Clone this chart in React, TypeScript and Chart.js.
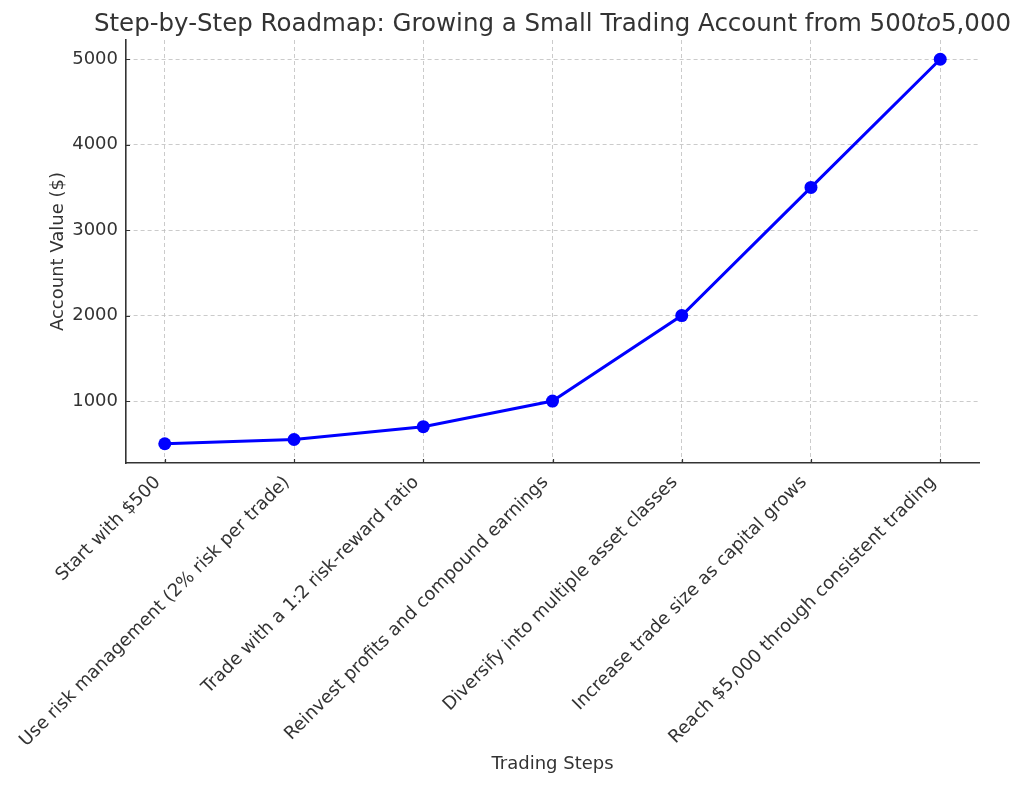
import React, { useEffect, useRef } from "react";
import { Chart, registerables } from "chart.js";

Chart.register(...registerables);

const steps: string[] = [
  "Start with $500",
  "Use risk management (2% risk per trade)",
  "Trade with a 1:2 risk-reward ratio",
  "Reinvest profits and compound earnings",
  "Diversify into multiple asset classes",
  "Increase trade size as capital grows",
  "Reach $5,000 through consistent trading",
];
const accountValues: number[] = [500, 550, 700, 1000, 2000, 3500, 5000];
const yTicks: number[] = [1000, 2000, 3000, 4000, 5000];
const titleParts: { text: string; italic: boolean }[] = [
  { text: "Step-by-Step Roadmap: Growing a Small Trading Account from 500", italic: false },
  { text: "to", italic: true },
  { text: "5,000", italic: false },
];
const xTitle = "Trading Steps";
const yTitle = "Account Value ($)";

const FONT = "'DejaVu Sans', sans-serif";
const TEXT = "#333333";
const GRID = "rgba(190,190,190,0.8)";
const AXIS = "#333333";

const titlePlugin = {
  id: "mixedTitle",
  afterDraw(chart: any) {
    const { ctx, chartArea } = chart;
    const size = 24.5;
    ctx.save();
    ctx.fillStyle = TEXT;
    ctx.textBaseline = "alphabetic";
    ctx.textAlign = "left";
    let total = 0;
    const widths = titleParts.map((p) => {
      ctx.font = `${p.italic ? "italic " : ""}${size}px ${FONT}`;
      const w = ctx.measureText(p.text).width;
      total += w;
      return w;
    });
    const cx = (chartArea.left + chartArea.right) / 2;
    let x = cx - total / 2;
    const y = 31;
    titleParts.forEach((p, i) => {
      ctx.font = `${p.italic ? "italic " : ""}${size}px ${FONT}`;
      ctx.fillText(p.text, x, y);
      x += widths[i];
    });
    ctx.restore();
  },
};

// matplotlib-style inward ticks
const inwardTicksPlugin = {
  id: "inwardTicks",
  afterDraw(chart: any) {
    const { ctx, chartArea } = chart;
    const xs = chart.scales.x;
    const ys = chart.scales.y;
    const len = 4;
    ctx.save();
    ctx.strokeStyle = AXIS;
    ctx.lineWidth = 1.2;
    ctx.beginPath();
    xs.ticks.forEach((t: any) => {
      const px = Math.round(xs.getPixelForValue(t.value)) + 0.5;
      ctx.moveTo(px, chartArea.bottom);
      ctx.lineTo(px, chartArea.bottom - len);
    });
    ys.ticks.forEach((t: any) => {
      const py = Math.round(ys.getPixelForValue(t.value)) + 0.5;
      ctx.moveTo(chartArea.left, py);
      ctx.lineTo(chartArea.left + len, py);
    });
    ctx.stroke();
    ctx.restore();
  },
};

export default function App() {
  const ref = useRef<HTMLCanvasElement | null>(null);

  useEffect(() => {
    document.body.style.margin = "0";
    const canvas = ref.current;
    if (!canvas) return;
    const chart = new Chart(canvas, {
      type: "line",
      data: {
        datasets: [
          {
            data: accountValues.map((v, i) => ({ x: i, y: v })),
            borderColor: "#0000ff",
            backgroundColor: "#0000ff",
            borderWidth: 3,
            pointRadius: 6.5,
            pointHoverRadius: 6.5,
            pointBorderWidth: 0,
            tension: 0,
          },
        ],
      },
      options: {
        animation: false,
        responsive: false,
        maintainAspectRatio: false,
        layout: { padding: { left: 0, right: 45, top: 40, bottom: 0 } },
        plugins: {
          legend: { display: false },
          title: { display: false },
          tooltip: { enabled: false },
        },
        scales: {
          x: {
            type: "linear",
            min: -0.3,
            max: 6.3,
            afterBuildTicks: (scale: any) => {
              scale.ticks = steps.map((_, i) => ({ value: i }));
            },
            afterFit: (scale: any) => {
              scale.height = 787 - 463;
            },
            ticks: {
              autoSkip: false,
              minRotation: 45,
              maxRotation: 45,
              padding: 9,
              labelOffset: -7,
              color: TEXT,
              font: { family: FONT, size: 18 },
              callback: (v: any) => steps[Math.round(Number(v))] ?? "",
            },
            grid: {
              color: GRID,
              lineWidth: 1,
              drawTicks: false,
            } as any,
            border: { display: true, color: AXIS, width: 1.6, dash: [4, 3] },
            title: {
              display: true,
              text: xTitle,
              color: TEXT,
              font: { family: FONT, size: 18 },
              padding: { top: 0, bottom: 12 },
            },
          },
          y: {
            type: "linear",
            min: 275,
            max: 5225,
            afterBuildTicks: (scale: any) => {
              scale.ticks = yTicks.map((v) => ({ value: v }));
            },
            afterFit: (scale: any) => {
              scale.width = 126;
            },
            ticks: {
              padding: 8,
              color: TEXT,
              font: { family: FONT, size: 18 },
              callback: (v: any) => String(v),
            },
            grid: {
              color: GRID,
              lineWidth: 1,
              drawTicks: false,
            } as any,
            border: { display: true, color: AXIS, width: 1.6, dash: [4, 3] },
            title: {
              display: true,
              text: yTitle,
              color: TEXT,
              font: { family: FONT, size: 18 },
              padding: { top: 48, bottom: 0 },
            },
          },
        },
      } as any,
      plugins: [titlePlugin, inwardTicksPlugin],
    });
    return () => chart.destroy();
  }, []);

  return (
    <div style={{ position: "absolute", left: 0, top: 0, width: 1024, height: 787, background: "#fff" }}>
      <canvas ref={ref} width={1024} height={787} style={{ width: 1024, height: 787, display: "block" }} />
    </div>
  );
}
